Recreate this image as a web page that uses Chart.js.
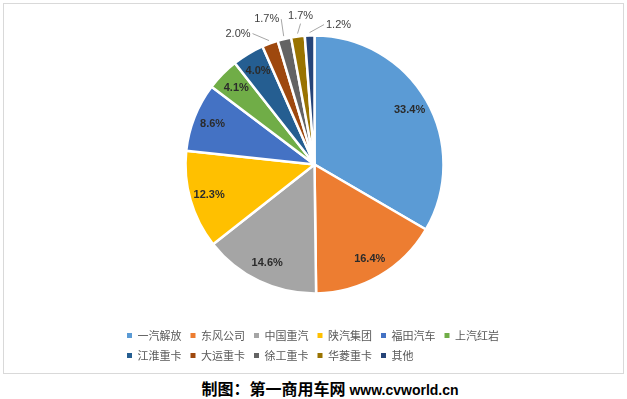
<!DOCTYPE html>
<html>
<head>
<meta charset="utf-8">
<script src="https://cdn.jsdelivr.net/npm/chart.js@4/dist/chart.umd.min.js"></script>
<style>
  body { margin: 0; background: #fff; width: 627px; height: 399px; overflow: hidden; }
  #box { position: absolute; left: 3px; top: 3px; width: 619px; height: 369px; border: 1px solid #d9d9d9; }
  #footer { position: absolute; left: 0; top: 376px; width: 660px; text-align: center; font-weight: bold; color: #000; }
  #footer .cn { font-family: "Noto Sans CJK SC", sans-serif; font-size: 16px; }
  #footer .en { font-family: "Liberation Sans", Arial, sans-serif; font-size: 14px; }
</style>
</head>
<body>
<div id="box"><canvas id="pie" width="619" height="369"></canvas></div>
<div id="footer"><span class="cn">制图：第一商用车网</span> <span class="en">www.cvworld.cn</span></div>
<script>
// market share by brand, %
const brands = ['一汽解放', '东风公司', '中国重汽', '陕汽集团', '福田汽车', '上汽红岩',
                '江淮重卡', '大运重卡', '徐工重卡', '华菱重卡', '其他'];
const shares = [33.4, 16.4, 14.6, 12.3, 8.6, 4.1, 4.0, 2.0, 1.7, 1.7, 1.2];
const colors = ['#5B9BD5', '#ED7D31', '#A5A5A5', '#FFC000', '#4472C4', '#70AD47',
                '#255E91', '#9E480E', '#636363', '#997300', '#264478'];

// labels of the thin slices sit outside, shifted from the rim (dx, dy)
const outsideShift = { 7: [-31, -7], 8: [-17, -17], 9: [3, -18], 10: [29, -8] };

const pctLabels = {
  id: 'pctLabels',
  afterDatasetsDraw(chart) {
    const ctx = chart.ctx;
    const meta = chart.getDatasetMeta(0);
    ctx.save();
    ctx.textAlign = 'center';
    ctx.textBaseline = 'middle';
    meta.data.forEach((arc, i) => {
      const p = arc.getProps(['x', 'y', 'startAngle', 'endAngle', 'outerRadius'], true);
      const mid = (p.startAngle + p.endAngle) / 2;
      const cos = Math.cos(mid), sin = Math.sin(mid);
      const text = shares[i].toFixed(1) + '%';
      const shift = outsideShift[i];
      if (!shift) {
        const r = p.outerRadius * 0.85;
        ctx.font = 'bold 11px "Liberation Sans", Arial, sans-serif';
        ctx.fillStyle = '#2b2b2b';
        ctx.fillText(text, p.x + cos * r, p.y + sin * r);
        return;
      }
      const ax = p.x + cos * (p.outerRadius + 3);
      const ay = p.y + sin * (p.outerRadius + 3);
      const lx = ax + shift[0], ly = ay + shift[1];
      ctx.font = '11px "Liberation Sans", Arial, sans-serif';
      const w = ctx.measureText(text).width;
      // leader line from label edge to slice rim
      let sx, sy;
      if (Math.abs(shift[0]) > w / 2) {
        sx = shift[0] < 0 ? lx + w / 2 + 2 : lx - w / 2 - 2;
        sy = ly;
      } else {
        sx = lx;
        sy = ly + 8;
      }
      ctx.strokeStyle = '#a6a6a6';
      ctx.lineWidth = 1;
      ctx.beginPath();
      ctx.moveTo(sx, sy);
      ctx.lineTo(ax, ay);
      ctx.stroke();
      ctx.fillStyle = '#404040';
      ctx.fillText(text, lx, ly);
    });
    ctx.restore();
  }
};

new Chart(document.getElementById('pie'), {
  type: 'pie',
  data: {
    labels: brands,
    datasets: [{
      data: shares,
      backgroundColor: colors,
      borderColor: '#ffffff',
      borderWidth: 2.5,
      radius: 129
    }]
  },
  options: {
    responsive: false,
    animation: false,
    layout: { padding: { left: 114, right: 112, top: 4, bottom: 2 } },
    plugins: {
      tooltip: { enabled: false },
      legend: {
        position: 'bottom',
        align: 'start',
        labels: {
          boxWidth: 5,
          boxHeight: 5,
          padding: 9,
          color: '#595959',
          font: { size: 11, family: '"Noto Sans CJK SC", sans-serif' },
          generateLabels(chart) {
            const base = Chart.overrides.pie.plugins.legend.labels.generateLabels(chart);
            return base.map(item => Object.assign(item, { lineWidth: 0, strokeStyle: item.fillStyle }));
          }
        }
      }
    }
  },
  plugins: [pctLabels]
});
</script>
</body>
</html>
